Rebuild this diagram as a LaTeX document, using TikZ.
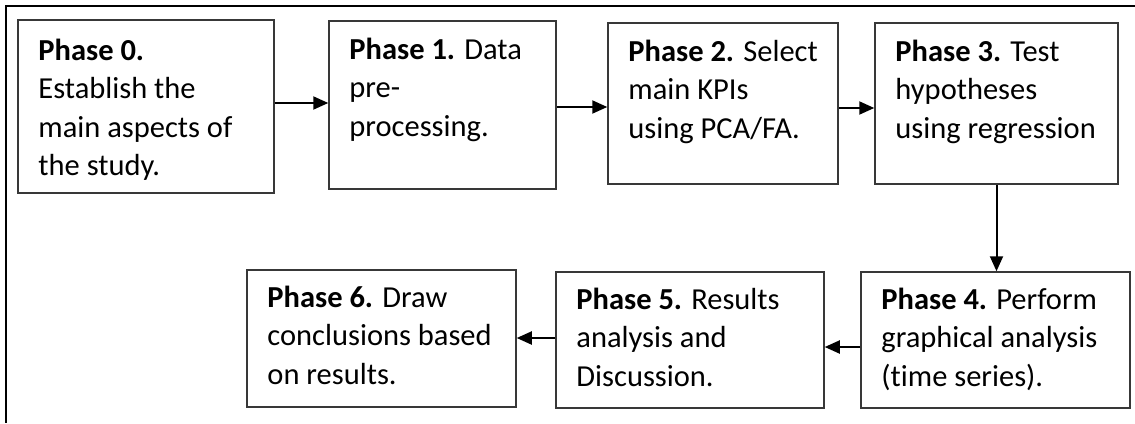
\documentclass[tikz,border=0pt]{standalone}
\usepackage{fontspec}
\setmainfont{Carlito}[Ligatures=NoCommon]
\usetikzlibrary{arrows.meta}
\tikzset{
  phasebox/.style={draw=black!78, line width=1.5pt, inner sep=0pt, rectangle},
  phasetext/.style={anchor=base west, inner sep=0pt, align=left,
    font={\fontsize{30.5}{38.5}\selectfont}},
  flow/.style={line width=2pt, -{Triangle[length=15pt,width=13pt]}},
}
\begin{document}
\begin{tikzpicture}[x=1pt,y=-1pt]
\useasboundingbox (0,0) rectangle (1135,423);
% outer frame (top and left edges only visible)
\coordinate (ftr) at (1135,6);
\coordinate (ftl) at (6,6);
\coordinate (fbl) at (6,423);
\draw[line width=1.6pt] (ftr) -- (ftl) -- (fbl);
% boxes
\node[phasebox, minimum width=256pt, minimum height=173pt] (b0) at (146,106.5) {};
\node[phasebox, minimum width=227pt, minimum height=168pt] (b1) at (442.5,105) {};
\node[phasebox, minimum width=230pt, minimum height=161pt] (b2) at (723,103.5) {};
\node[phasebox, minimum width=243pt, minimum height=161pt] (b3) at (996.5,103.5) {};
\node[phasebox, minimum width=269pt, minimum height=136pt] (b4) at (995.5,340) {};
\node[phasebox, minimum width=268pt, minimum height=136pt] (b5) at (690,340) {};
\node[phasebox, minimum width=269pt, minimum height=137pt] (b6) at (381.5,338.5) {};
% texts (anchored at the baseline of their last line)
\node[phasetext] (t0) at ([shift={(21pt,-156.5pt)}]b0.north west) {\textbf{Phase 0.}\\Establish the\\main aspects of\\the study.};
\node[phasetext] (t1) at ([shift={(21pt,-116pt)}]b1.north west) {\textbf{Phase 1.} Data\\pre-\\processing.};
\node[phasetext] (t2) at ([shift={(21pt,-116pt)}]b2.north west) {\textbf{Phase 2.} Select\\main KPIs\\using PCA/FA.};
\node[phasetext] (t3) at ([shift={(21pt,-116pt)}]b3.north west) {\textbf{Phase 3.} Test\\hypotheses\\using regression};
\node[phasetext] (t4) at ([shift={(21pt,-115pt)}]b4.north west) {\textbf{Phase 4.} Perform\\graphical analysis\\(time series).};
\node[phasetext] (t5) at ([shift={(21pt,-115pt)}]b5.north west) {\textbf{Phase 5.} Results\\analysis and\\Discussion.};
\node[phasetext] (t6) at ([shift={(21pt,-115pt)}]b6.north west) {\textbf{Phase 6.} Draw\\conclusions based\\on results.};
% connectors
\draw[flow] ([yshift=3.5pt]b0.east) -- ([yshift=3.5pt]b0.east -| b1.west);
\draw[flow] ([yshift=-2pt]b1.east) -- ([yshift=-2pt]b1.east -| b2.west);
\draw[flow] ([yshift=-4.5pt]b2.east) -- ([yshift=-4.5pt]b2.east -| b3.west);
\draw[flow] (b3.south) -- (b3.south |- b4.north);
\draw[flow] ([yshift=-7pt]b4.west) -- ([yshift=-7pt]b4.west -| b5.east);
\draw[flow] ([yshift=2pt]b5.west) -- ([yshift=2pt]b5.west -| b6.east);
\end{tikzpicture}
\end{document}
